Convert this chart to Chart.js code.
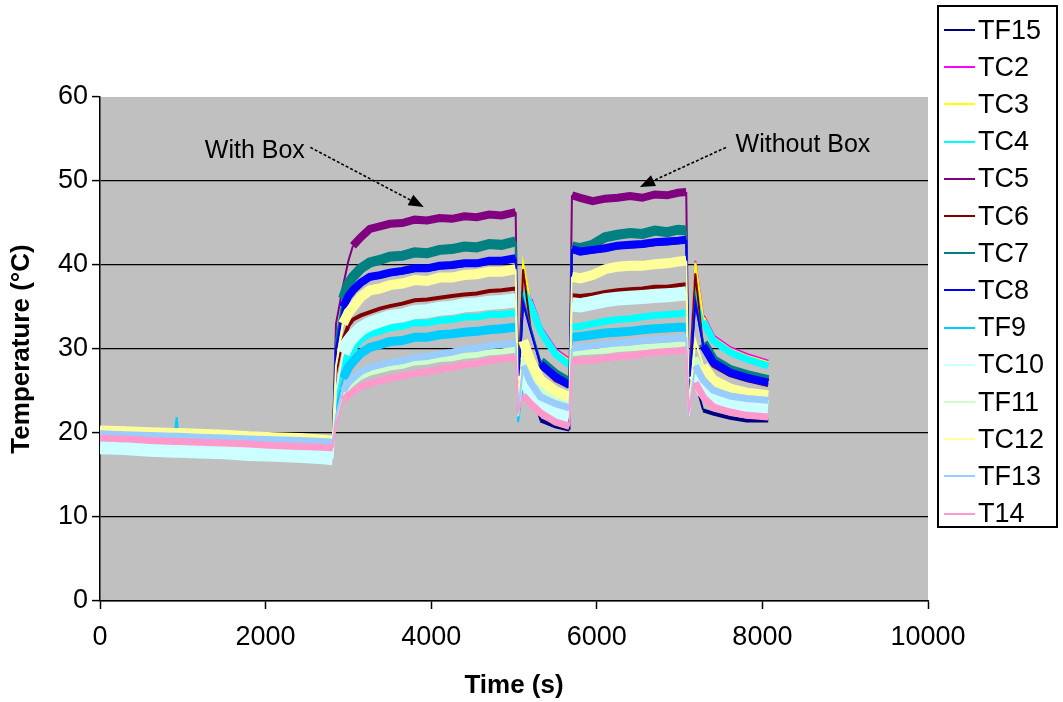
<!DOCTYPE html>
<html><head><meta charset="utf-8">
<script src="https://cdn.jsdelivr.net/npm/chart.js@4.4.1/dist/chart.umd.min.js"></script>
<style>
html,body{margin:0;padding:0;background:#fff;}
#wrap{position:relative;width:1063px;height:702px;overflow:hidden;}
#c{position:absolute;left:0;top:0;}
#legend{position:absolute;left:937px;top:5px;width:121px;height:523px;border:2px solid #000;box-sizing:border-box;background:#fff;font-family:"Liberation Sans",Arial,sans-serif;font-size:27px;color:#000;}
.row{position:absolute;left:0;height:30px;display:flex;align-items:center;white-space:nowrap;}
.sw{display:inline-block;width:31px;height:2px;margin-left:5px;margin-right:3px;}
</style></head><body>
<div id="wrap"><canvas id="c" width="1063" height="702"></canvas><div id="legend"></div></div>
<script>
// ---- data ----
const times = [0,300,600,900,925,950,1200,1500,1800,2100,2400,2700,2810,
 2850,2935,3000,3055,3150,3260,3380,3500,3650,3800,3950,4100,4250,4400,4550,4700,4850,5020,
 5050,5110,5200,5320,5500,5670,
 5700,5800,5950,6100,6250,6400,6550,6700,6850,6980,7080,
 7110,7190,7285,7406,7609,7810,8070];

const seriesNames = ['TF15','TC2','TC3','TC4','TC5','TC6','TC7','TC8','TF9','TC10','TF11','TC12','TF13','T14'];
const seriesColors = ['#000080','#FF00FF','#FFFF00','#00FFFF','#800080','#800000','#008080','#0000FF','#00CCFF','#CCFFFF','#CCFFCC','#FFFF99','#99CCFF','#FF99CC'];
const seriesWidths = [4,4,4,7,8,4,10,8,9,14,6,10,7,7];

const TF15 = [19.6,19.5,19.4,19.3,19.3,19.3,19.2,19.1,19.0,18.9,18.8,18.7,18.6,
 29.8,34.8,36.1,36.8,37.7,38.4,38.6,38.9,39.1,39.4,39.4,39.7,39.8,40.0,40.0,40.3,40.3,40.6,
 24.5,27.9,25.5,21.5,20.8,20.4,
 41.7,41.4,41.6,41.8,42.1,42.2,42.3,42.5,42.6,42.7,42.8,
 23.5,26.0,22.7,22.3,21.8,21.5,21.5];
const TC2 = [19.6,19.5,19.4,19.3,19.3,19.3,19.2,19.1,19.0,18.9,18.8,18.7,18.6,
 25.0,29.5,30.8,31.5,32.4,33.0,33.4,33.8,34.0,34.4,34.5,34.8,34.9,35.2,35.3,35.5,35.6,35.8,
 23.0,39.5,35.9,32.5,29.9,28.7,
 35.3,35.2,35.5,35.8,36.0,36.1,36.2,36.3,36.4,36.5,36.6,
 24.0,40.5,33.9,31.5,30.1,29.3,28.5];
const TC3 = [19.6,19.5,19.4,19.3,19.3,19.3,19.2,19.1,19.0,18.9,18.8,18.7,18.6,
 25.0,29.5,30.8,31.5,32.4,33.0,33.4,33.8,34.0,34.4,34.5,34.8,34.9,35.2,35.3,35.5,35.6,35.8,
 22.0,40.2,35.6,32.3,29.7,28.5,
 35.3,35.2,35.5,35.8,36.0,36.1,36.2,36.3,36.4,36.5,36.6,
 22.5,40.3,33.7,31.3,29.9,29.1,28.3];
const TC4 = [19.6,19.5,19.4,19.3,19.3,19.3,19.2,19.1,19.0,18.9,18.8,18.7,18.6,
 24.0,28.0,29.3,30.0,31.1,31.8,32.1,32.5,32.7,33.1,33.1,33.4,33.5,33.8,33.8,34.1,34.1,34.3,
 24.0,37.0,35.2,32.1,29.4,28.1,
 32.6,32.7,33.0,33.3,33.5,33.6,33.8,34.0,34.1,34.2,34.3,
 24.0,37.0,33.3,31.0,29.6,28.8,28.0];
const TC5 = [19.6,19.5,19.4,19.3,19.3,19.3,19.2,19.1,19.0,18.9,18.8,18.7,18.6,
 33.0,37.5,40.5,42.3,43.3,44.3,44.6,44.9,45.0,45.4,45.3,45.6,45.5,45.8,45.7,46.0,45.9,46.3,
 25.0,35.5,32.3,28.3,26.8,25.8,
 48.3,48.0,47.6,47.9,48.0,48.2,48.0,48.4,48.3,48.6,48.7,
 25.0,35.5,30.5,28.5,27.3,26.7,26.1];
const TC6 = [19.6,19.5,19.4,19.3,19.3,19.3,19.2,19.1,19.0,18.9,18.8,18.7,18.6,
 27.0,31.0,32.8,33.5,34.0,34.4,34.8,35.1,35.4,35.8,35.9,36.1,36.3,36.5,36.6,36.9,37.0,37.2,
 25.0,39.5,32.5,28.0,26.3,25.5,
 36.4,36.3,36.5,36.8,37.0,37.1,37.2,37.4,37.4,37.6,37.7,
 25.0,39.0,30.2,28.0,26.9,26.3,25.7];
const TC7 = [19.6,19.5,19.4,19.3,19.3,19.3,19.2,19.1,19.0,18.9,18.8,18.7,18.6,
 31.0,36.0,37.8,38.6,39.6,40.3,40.6,41.0,41.1,41.5,41.4,41.8,41.9,42.2,42.1,42.5,42.4,42.8,
 25.0,36.0,32.5,28.5,27.0,26.0,
 42.2,42.0,42.4,43.3,43.6,43.8,43.7,44.1,43.9,44.2,44.1,
 25.0,36.0,30.7,28.7,27.5,26.9,26.3];
const TC8 = [19.6,19.5,19.4,19.3,19.3,19.3,19.2,19.1,19.0,18.9,18.8,18.7,18.6,
 30.0,35.0,36.3,37.0,37.9,38.6,38.8,39.1,39.3,39.6,39.6,39.9,40.0,40.2,40.2,40.5,40.5,40.8,
 24.8,35.5,32.2,28.2,26.7,25.7,
 41.9,41.6,41.8,42.0,42.3,42.4,42.5,42.7,42.8,42.9,43.0,
 24.8,35.5,30.4,28.4,27.2,26.6,26.0];
const TF9 = [19.6,19.5,19.4,19.3,21.9,19.3,19.2,19.1,19.0,18.9,18.8,18.7,18.6,
 23.0,26.5,27.8,28.5,29.5,30.2,30.5,30.9,31.0,31.4,31.4,31.7,31.8,32.0,32.1,32.3,32.4,32.6,
 21.3,26.0,24.5,23.2,22.5,22.2,
 31.4,31.5,31.7,31.9,32.0,32.1,32.3,32.4,32.5,32.6,32.6,
 22.0,27.0,25.5,24.3,23.6,23.3,23.2];
const TC10 = [18.3,18.2,18.0,17.9,17.9,17.9,17.8,17.7,17.5,17.4,17.3,17.1,17.0,
 25.0,29.5,30.8,31.5,32.4,33.0,33.4,33.8,34.0,34.4,34.5,34.8,34.9,35.2,35.3,35.5,35.6,35.8,
 22.0,27.0,25.0,23.5,22.6,22.1,
 35.3,35.2,35.5,35.8,36.0,36.1,36.2,36.3,36.4,36.5,36.6,
 22.0,27.0,25.0,24.0,23.5,23.3,23.1];
const TF11 = [20.4,20.3,20.2,20.1,20.1,20.1,20.0,19.9,19.7,19.6,19.5,19.3,19.2,
 21.5,24.5,25.5,26.0,26.7,27.2,27.5,27.8,28.0,28.4,28.5,28.8,28.9,29.2,29.3,29.6,29.7,29.9,
 22.8,29.0,27.0,25.2,24.2,23.6,
 29.5,29.6,29.7,29.8,30.0,30.1,30.2,30.3,30.4,30.5,30.5,
 22.8,29.0,27.0,25.7,24.8,24.4,24.2];
const TC12 = [20.3,20.2,20.1,20.0,20.0,20.0,19.9,19.8,19.6,19.5,19.4,19.2,19.1,
 28.0,33.0,34.3,35.0,36.2,37.0,37.2,37.6,37.8,38.2,38.1,38.5,38.5,38.8,38.9,39.2,39.2,39.5,
 23.0,31.0,28.5,26.3,25.0,24.3,
 38.6,38.4,38.8,39.5,39.8,39.9,39.9,40.1,40.2,40.4,40.5,
 23.0,31.0,28.0,26.3,25.3,24.8,24.5];
const TF13 = [19.9,19.8,19.7,19.6,19.6,19.6,19.5,19.4,19.3,19.2,19.1,19.0,18.9,
 22.0,25.0,26.0,26.5,27.3,27.8,28.1,28.4,28.6,29.0,29.1,29.4,29.6,30.0,30.1,30.4,30.5,30.7,
 22.5,28.0,26.0,24.3,23.5,23.0,
 30.1,30.2,30.4,30.6,30.7,30.8,31.0,31.1,31.2,31.3,31.4,
 22.5,28.0,26.3,25.1,24.4,24.1,23.9];
const T14 = [19.4,19.3,19.1,19.0,19.0,19.0,18.9,18.8,18.7,18.5,18.4,18.3,18.2,
 21.0,23.9,24.5,24.9,25.5,25.9,26.2,26.5,26.8,27.1,27.3,27.6,27.8,28.1,28.3,28.6,28.8,29.0,
 22.5,24.5,23.5,22.4,21.3,20.8,
 28.5,28.6,28.7,28.9,29.1,29.2,29.4,29.6,29.7,29.8,29.9,
 22.5,26.0,24.3,23.1,22.5,22.1,21.9];

const seriesValues = [TF15,TC2,TC3,TC4,TC5,TC6,TC7,TC8,TF9,TC10,TF11,TC12,TF13,T14];

const xTickValues = [0,2000,4000,6000,8000,10000];
const yTickValues = [0,10,20,30,40,50,60];
const xTitle = 'Time (s)';
const yTitle = 'Temperature (°C)';

const annotations = [
  {text:'With Box', tx:1870, ty:53.6, from:[2540,54.0], to:[3910,46.9]},
  {text:'Without Box', tx:8490, ty:54.3, from:[7560,54.0], to:[6520,49.3]}
];

// ---- chart ----
const FONT = '"Liberation Sans", Arial, sans-serif';

const datasets = seriesNames.map((name, i) => ({
  label: name,
  data: times.map((t, j) => ({x: t, y: seriesValues[i][j]})),
  borderColor: seriesColors[i],
  backgroundColor: seriesColors[i],
  borderWidth: seriesWidths[i],
  pointRadius: 0,
  tension: 0,
  fill: false,
  order: seriesNames.length - i,
  borderJoinStyle: 'miter',
  segment: {
    borderWidth: ctx => {
      const dx = Math.abs(ctx.p1.x - ctx.p0.x), dy = Math.abs(ctx.p1.y - ctx.p0.y);
      return dy > 3 * dx ? 2 : undefined;
    }
  }
}));

const plotBg = {
  id: 'plotBg',
  beforeDraw(chart) {
    const {ctx, chartArea: a} = chart;
    ctx.save();
    ctx.fillStyle = '#C0C0C0';
    ctx.fillRect(a.left, a.top, a.right - a.left, a.bottom - a.top);
    ctx.restore();
  }
};

const arrows = {
  id: 'arrows',
  afterDatasetsDraw(chart) {
    const {ctx, scales: {x, y}} = chart;
    ctx.save();
    annotations.forEach(a => {
      const x0 = x.getPixelForValue(a.from[0]), y0 = y.getPixelForValue(a.from[1]);
      const x1 = x.getPixelForValue(a.to[0]), y1 = y.getPixelForValue(a.to[1]);
      const ang = Math.atan2(y1 - y0, x1 - x0);
      const L = 15, W = 6;
      const bx = x1 - L * Math.cos(ang), by = y1 - L * Math.sin(ang);
      ctx.strokeStyle = '#000';
      ctx.lineWidth = 1.6;
      ctx.setLineDash([3, 2]);
      ctx.beginPath(); ctx.moveTo(x0, y0); ctx.lineTo(bx, by); ctx.stroke();
      ctx.setLineDash([]);
      ctx.fillStyle = '#000';
      ctx.beginPath();
      ctx.moveTo(x1, y1);
      ctx.lineTo(bx + W * Math.sin(ang), by - W * Math.cos(ang));
      ctx.lineTo(bx - W * Math.sin(ang), by + W * Math.cos(ang));
      ctx.closePath(); ctx.fill();
      ctx.font = '25px ' + FONT;
      ctx.textAlign = 'center';
      ctx.textBaseline = 'middle';
      ctx.fillText(a.text, x.getPixelForValue(a.tx), y.getPixelForValue(a.ty));
    });
    ctx.restore();
  }
};

new Chart(document.getElementById('c'), {
  type: 'line',
  data: { datasets },
  options: {
    responsive: false,
    animation: false,
    events: [],
    layout: { padding: { top: 97, right: 135, bottom: 0, left: 0 } },
    plugins: { legend: { display: false }, tooltip: { enabled: false } },
    scales: {
      x: {
        type: 'linear', min: 0, max: 10000,
        afterFit: s => { s.height = 101; },
        afterBuildTicks: s => { s.ticks = xTickValues.map(v => ({value: v})); },
        border: { display: true, color: '#000', width: 1.5 },
        grid: { drawOnChartArea: false, drawTicks: true, tickLength: 8, tickColor: '#000', tickWidth: 1.5 },
        ticks: { color: '#000', font: { family: FONT, size: 27 }, padding: 12, maxRotation: 0, callback: v => String(v) },
        title: { display: true, text: xTitle, color: '#000', font: { family: FONT, size: 26, weight: 'bold' }, padding: { top: 0, bottom: 1 } }
      },
      y: {
        type: 'linear', min: 0, max: 60,
        afterFit: s => { s.width = 100; },
        afterBuildTicks: s => { s.ticks = yTickValues.map(v => ({value: v})); },
        border: { display: true, color: '#000', width: 1.5 },
        grid: {
          color: c => (c.tick && c.tick.value === 60) ? 'rgba(0,0,0,0)' : '#000',
          lineWidth: 1.2, drawTicks: true, tickLength: 8, tickColor: '#000', tickWidth: 1.5
        },
        ticks: { color: '#000', font: { family: FONT, size: 27 }, padding: 4, callback: v => String(v) },
        title: { display: true, text: yTitle, color: '#000', font: { family: FONT, size: 26, weight: 'bold' }, padding: { top: 6, bottom: 0 } }
      }
    }
  },
  plugins: [plotBg, arrows]
});

// ---- HTML legend ----
const leg = document.getElementById('legend');
seriesNames.forEach((name, i) => {
  const row = document.createElement('div');
  row.className = 'row';
  row.style.top = (8 + 37.2 * i) + 'px';
  const sw = document.createElement('span');
  sw.className = 'sw';
  sw.style.background = seriesColors[i];
  const tx = document.createElement('span');
  tx.textContent = name;
  row.appendChild(sw); row.appendChild(tx);
  leg.appendChild(row);
});
</script>
</body></html>
